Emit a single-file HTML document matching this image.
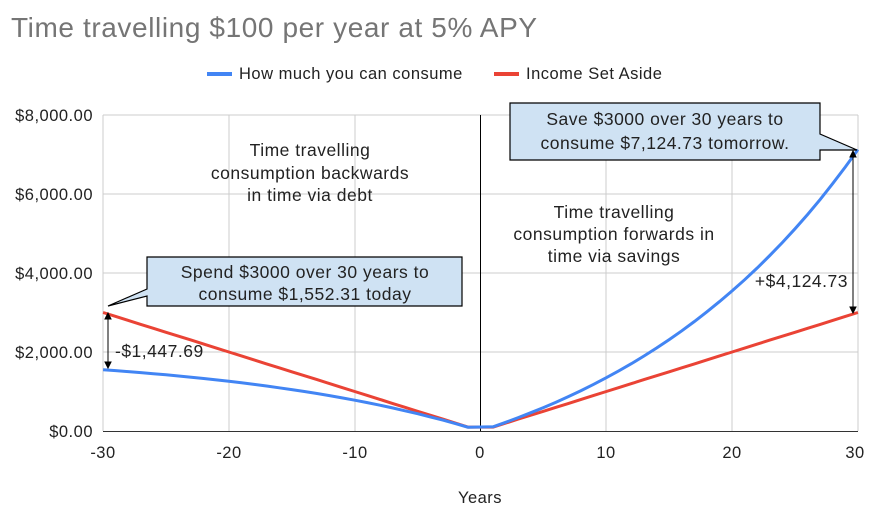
<!DOCTYPE html><html><head><style>body{margin:0;background:#fff}svg{display:block;font-family:"Liberation Sans",Arial,sans-serif}</style></head><body>
<svg id="s" width="873" height="514" xmlns="http://www.w3.org/2000/svg">
<rect width="873" height="514" fill="#fff"/>
<text x="11" y="37" font-size="28" letter-spacing="0.6" fill="#757575">Time travelling $100 per year at 5% APY</text>
<line x1="207" y1="74" x2="232" y2="74" stroke="#4285f4" stroke-width="4"/>
<text x="239" y="79" font-size="16.5" letter-spacing="0.5" fill="#222">How much you can consume</text>
<line x1="494" y1="74" x2="519" y2="74" stroke="#ea4335" stroke-width="4"/>
<text x="526" y="79" font-size="16.5" letter-spacing="0.5" fill="#222">Income Set Aside</text>
<g stroke="#ccc" stroke-width="1">
<line x1="103" y1="115" x2="858" y2="115"/><line x1="103" y1="194" x2="858" y2="194"/><line x1="103" y1="273" x2="858" y2="273"/><line x1="103" y1="352" x2="858" y2="352"/>
<line x1="103" y1="115" x2="103" y2="431"/><line x1="229" y1="115" x2="229" y2="431"/><line x1="355" y1="115" x2="355" y2="431"/><line x1="606" y1="115" x2="606" y2="431"/><line x1="732" y1="115" x2="732" y2="431"/><line x1="858" y1="115" x2="858" y2="431"/>
</g>
<line x1="103" y1="431.5" x2="858" y2="431.5" stroke="#333" stroke-width="1"/>
<line x1="480.5" y1="115" x2="480.5" y2="431" stroke="#000" stroke-width="1"/>
<g font-size="16.5" letter-spacing="0.5" fill="#222" text-anchor="end">
<text x="93" y="121">$8,000.00</text><text x="93" y="200">$6,000.00</text><text x="93" y="279">$4,000.00</text><text x="93" y="358">$2,000.00</text><text x="93" y="437">$0.00</text>
</g>
<g font-size="16.5" letter-spacing="0.5" fill="#222" text-anchor="middle">
<text x="103" y="458">-30</text><text x="229" y="458">-20</text><text x="355" y="458">-10</text><text x="480" y="458">0</text><text x="606" y="458">10</text><text x="732" y="458">20</text><text x="855" y="458">30</text>
<text x="480" y="503">Years</text>
</g>
<path id="red" fill="none" stroke="#ea4335" stroke-width="3"/>
<path id="blue" fill="none" stroke="#4285f4" stroke-width="3"/>
<g font-size="17.5" letter-spacing="0.5" fill="#222" text-anchor="middle">
<text x="310" y="156">Time travelling</text><text x="310" y="179">consumption backwards</text><text x="310" y="201">in time via debt</text>
<text x="614" y="218">Time travelling</text><text x="614" y="240">consumption forwards in</text><text x="614" y="262">time via savings</text>
</g>
<path d="M147,257H462V306H147V296L108,306L147,289Z" fill="#cfe2f3" stroke="#000" stroke-width="1.2"/>
<g font-size="17.5" letter-spacing="0.5" text-anchor="middle" fill="#222">
<text x="305" y="278">Spend $3000 over 30 years to</text>
<text x="305" y="300">consume $1,552.31 today</text>
</g>
<path d="M510,103H820V134L857,150L820,150V160H510Z" fill="#cfe2f3" stroke="#000" stroke-width="1.2"/>
<g font-size="17.5" letter-spacing="0.5" text-anchor="middle" fill="#222">
<text x="665" y="125">Save $3000 over 30 years to</text>
<text x="665" y="149">consume $7,124.73 tomorrow.</text>
</g>
<g stroke="#000" stroke-width="1">
<line x1="108" y1="317" x2="108" y2="364"/><path d="M105,319L108,313L111,319Z M105,362L108,368L111,362Z" fill="#000"/>
<line x1="853" y1="155" x2="853" y2="309"/><path d="M850,157L853,151L856,157Z M850,307L853,313L856,307Z" fill="#000"/>
</g>
<text x="115" y="357" font-size="17.5" letter-spacing="0.5" fill="#222">-$1,447.69</text>
<text x="848" y="287" font-size="17.5" letter-spacing="0.5" text-anchor="end" fill="#222">+$4,124.73</text>
</svg>
<script>
function X(n){return 480.5+n*12.58}function Y(v){return 431-v*0.0395}
var r=[],b=[];
for(var n=-30;n<=-1;n++){var k=-n;r.push([X(n),Y(100*k)]);b.push([X(n),Y(1552.31*(1-Math.pow(1.05,-k))/(1-Math.pow(1.05,-30)))]);}
for(var n=1;n<=30;n++){r.push([X(n),Y(100*n)]);b.push([X(n),Y(7124.73*(Math.pow(1.05,n)-1)/(Math.pow(1.05,30)-1))]);}
function p(a){return "M"+a.map(function(q){return q[0].toFixed(1)+","+q[1].toFixed(1)}).join("L")}
document.getElementById("red").setAttribute("d",p(r));document.getElementById("blue").setAttribute("d",p(b));
</script>
</body></html>
